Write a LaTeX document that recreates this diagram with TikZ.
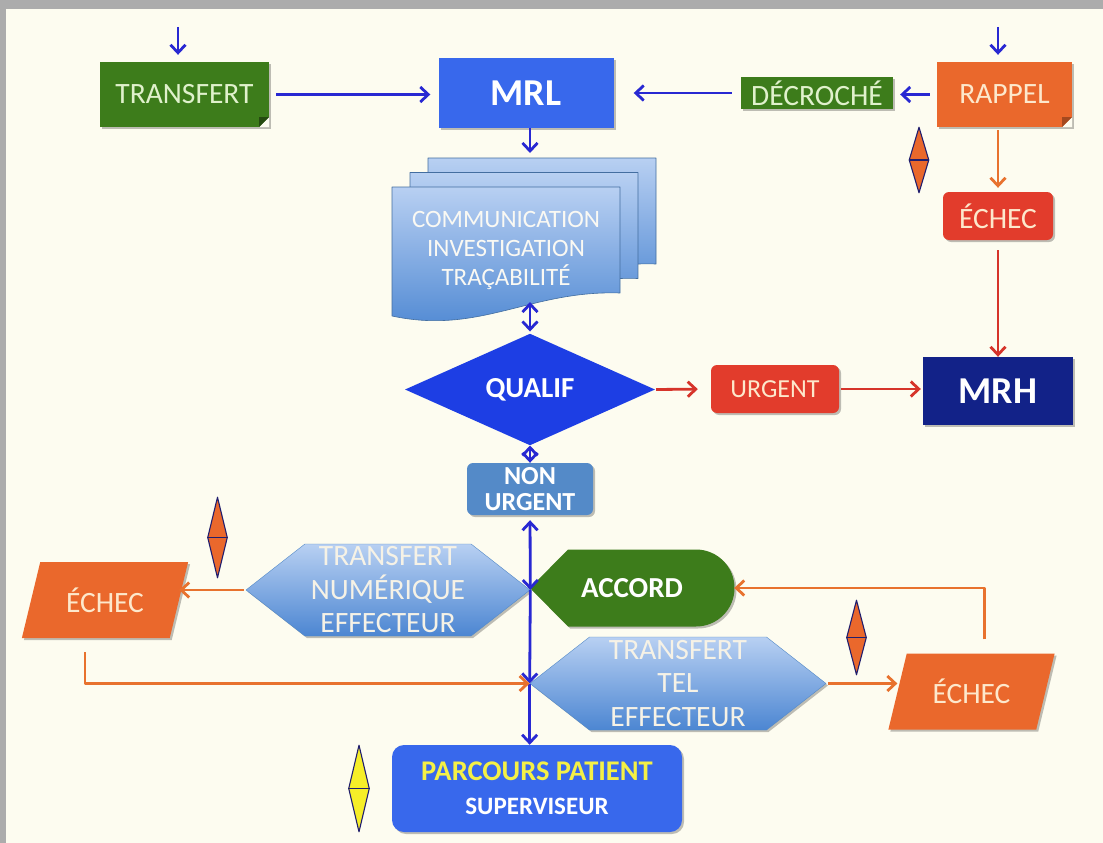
\documentclass[tikz,border=0pt]{standalone}
\usepackage{fontspec}
\setmainfont{Carlito}
\usetikzlibrary{arrows.meta}
\usetikzlibrary{shapes.geometric,shapes.symbols}
\usetikzlibrary{shadows}

\definecolor{fond}{RGB}{253,252,240}
\definecolor{cadre}{RGB}{172,172,172}
\definecolor{vert}{RGB}{61,124,27}
\definecolor{vertclair}{RGB}{224,241,204}
\definecolor{bleu}{RGB}{56,104,236}
\definecolor{bleuqualif}{RGB}{29,62,228}
\definecolor{marine}{RGB}{18,34,136}
\definecolor{orangeR}{RGB}{234,104,44}
\definecolor{orangeclair}{RGB}{253,232,204}
\definecolor{rouge}{RGB}{226,60,44}
\definecolor{acier}{RGB}{84,138,200}
\definecolor{ciel}{RGB}{184,208,242}
\definecolor{cielfonce}{RGB}{76,134,210}
\definecolor{creme}{RGB}{246,242,230}
\definecolor{trait}{RGB}{40,40,210}
\definecolor{traito}{RGB}{232,114,46}
\definecolor{traitr}{RGB}{214,52,42}
\definecolor{bordsigne}{RGB}{32,30,110}
\definecolor{jaune}{RGB}{246,238,40}
\definecolor{jaunetexte}{RGB}{244,240,70}

\tikzset{
  txt/.style={font=\fontsize{29.5}{33.5}\selectfont},
  ombre/.style={drop shadow={shadow xshift=2pt,shadow yshift=-2pt,opacity=.25,fill=black}},
  boite/.style={rectangle, inner sep=0pt, align=center, ombre},
  arrondi/.style={boite, rounded corners=6pt},
  coin/.style={path picture={
      \fill[fond] (path picture bounding box.south east) ++(-10pt,0) -- ++(10pt,0) -- ++(0,10pt) -- cycle;
      \fill[#1] (path picture bounding box.south east) ++(-10pt,0) -- ++(10pt,10pt) -- ++(-10pt,0) -- cycle;}},
  hexa/.style={signal, signal to=east and west, signal pointer angle=76, inner sep=0pt,
      align=center, top color=ciel, bottom color=cielfonce, draw=acier, text=creme, txt, ombre},
  echec/.style={trapezium, trapezium stretches=true, trapezium left angle=66, trapezium right angle=114,
      inner sep=0pt, fill=orangeR, text=orangeclair, txt, minimum width=168pt, minimum height=76pt, ombre},
  losange/.style={diamond, inner sep=0pt, minimum width=20pt, draw=bordsigne, line width=1.1pt, fill=orangeR,
      path picture={\draw[color=bordsigne,line width=1.1pt] (path picture bounding box.west) -- (path picture bounding box.east);}},
  page/.style={top color=ciel, bottom color=cielfonce, draw=acier!80!black, line width=.6pt},
  fl/.style={->, line width=2.8pt, color=trait},
  flo/.style={->, line width=2.8pt, color=traito},
  flr/.style={->, line width=2.8pt, color=traitr}
}

\begin{document}
\begin{tikzpicture}[line join=round,>={Straight Barb[length=8pt,width=15pt]},x=1pt,y=-1pt]

  %cadre
  \fill[cadre] (0,0) rectangle (1103,843);
  \fill[fond] (6,9) rectangle (1103,843);
  \useasboundingbox (0,0) rectangle (1103,843);

  %ligne du haut
  \node[boite, coin=vert!60!black, fill=vert, text=vertclair, txt, minimum width=169pt, minimum height=65pt] (transfert) at (184.5,94.5) {TRANSFERT};
  \node[boite, fill=bleu, text=white, font=\bfseries\fontsize{38}{38}\selectfont, minimum width=175pt, minimum height=69pt] (mrl) at (526,93) {MRL};
  \node[boite, fill=vert, text=vertclair, txt, minimum width=152pt, minimum height=32pt] (decroche) at (817,93) {DÉCROCHÉ};
  \node[boite, coin=orangeR!70!black, fill=orangeR, text=orangeclair, txt, minimum width=135pt, minimum height=65pt] (rappel) at (1004.5,94.5) {RAPPEL};
  \coordinate (entreeT) at (178,27);
  \coordinate (entreeR) at (998,27);

  %colonne de droite
  \node[losange, minimum height=66pt] (signeA) at (919,160) {};
  \node[arrondi, fill=rouge, text=orangeclair, txt, minimum width=110pt, minimum height=48pt] (echecA) at (998,216) {ÉCHEC};
  \node[boite, fill=marine, text=white, font=\bfseries\fontsize{38}{38}\selectfont, minimum width=150pt, minimum height=68pt] (mrh) at (998,391) {MRH};

  %documents
  \foreach \d in {2,1,0}
  {
    \shade[page, shift={(18*\d,-14.5*\d)}] (392,187) -- (620,187) -- (620,293)
      .. controls (530,290) and (480,335) .. (392,316) -- cycle;
  }
  \node[font=\fontsize{25}{29}\selectfont, text=creme!50!white, align=center] (doc) at (506,250) {COMMUNICATION\\INVESTIGATION\\TRAÇABILITÉ};
  \coordinate (docHaut) at (530,158);
  \coordinate (docBas) at (530,302);

  %qualification
  \node[diamond, inner sep=0pt, fill=bleuqualif, text=white, font=\bfseries\fontsize{29}{29}\selectfont, minimum width=250pt, minimum height=89pt] (qualif) at (530,389.5) {QUALIF};
  \node[arrondi, fill=rouge, text=orangeclair, font=\fontsize{26}{26}\selectfont, minimum width=128pt, minimum height=48pt] (urgent) at (775,389) {URGENT};
  \node[arrondi, fill=acier, text=white, font=\bfseries\fontsize{26}{26}\selectfont, minimum width=126pt, minimum height=52pt] (nonurgent) at (530,489) {NON\\URGENT};

  %transferts
  \node[hexa, minimum width=284pt, minimum height=92pt] (tne) at (388,590) {TRANSFERT\\NUMÉRIQUE\\EFFECTEUR};
  \node[echec] (echecG) at (105,600) {ÉCHEC};
  \node[losange, minimum height=81pt] (signeG) at (217.5,537.5) {};

  \coordinate (ac) at (632,588);
  \fill[vert, ombre] ([xshift=-102pt]ac) -- ++(38pt,38.5pt) -- ++(128pt,0)
    arc[start angle=90, end angle=-90, radius=38.5pt] -- ++(-128pt,0) -- cycle;
  \node[font=\bfseries\fontsize{29}{29}\selectfont, text=white, minimum width=204pt, minimum height=77pt, inner sep=0pt] (accord) at (ac) {ACCORD};

  \node[hexa, minimum width=296pt, minimum height=93pt] (tte) at (678,683.5) {TRANSFERT\\TEL\\EFFECTEUR};
  \node[echec] (echecD) at (971.5,691.5) {ÉCHEC};
  \node[losange, minimum height=75pt] (signeD) at (856.5,637.5) {};

  %parcours
  \node[arrondi, rounded corners=12pt, fill=bleu, text=white, font=\bfseries\fontsize{25}{34}\selectfont, minimum width=290pt, minimum height=87pt] (parcours) at (537,788.5)
    {{\color{jaunetexte}\fontsize{28.5}{34}\selectfont PARCOURS PATIENT}\\SUPERVISEUR};
  \node[losange, fill=jaune, minimum width=21pt, minimum height=87pt] (signeJ) at (359,788.5) {};

  % fleches bleues
  \draw[fl, shorten >=7pt] (entreeT) -- (entreeT |- transfert.north);
  \draw[fl, shorten >=7pt] (entreeR) -- (entreeR |- rappel.north);
  \draw[fl, shorten <=7pt, shorten >=8pt] (transfert.east) -- (transfert.east -| mrl.west);
  \draw[fl, shorten <=7pt, shorten >=7pt] (rappel.west) -- (rappel.west -| decroche.east);
  \draw[fl, shorten <=9pt, shorten >=20pt] (decroche.west) -- (decroche.west -| mrl.east);
  \draw[fl, shorten >=5pt] (docHaut |- mrl.south) -- (docHaut);
  \draw[fl, <->, shorten >=2pt] (docBas) -- (qualif.north);
  \draw[fl, <->] (qualif.south) -- (nonurgent.north);
  \draw[fl, <->, shorten <=5pt] (nonurgent.south) -- (tne.east);
  \draw[fl] (tne.east) -- (tte.west);
  \draw[fl] (tte.west) -- (tte.west |- parcours.north);

  % fleches oranges
  \draw[flo, shorten <=3pt, shorten >=4pt] (entreeR |- rappel.south) -- (entreeR |- echecA.north);
  \draw[flo, shorten <=2pt] (tne.west) -- (tne.west -| echecG.east);
  \draw[flo] ([xshift=-20pt,yshift=-14pt]echecG.south) |- (tte.west);
  \draw[flo, shorten <=2pt] (tte.east) -- (tte.east -| echecD.west);
  \draw[flo] ([xshift=13pt,yshift=14pt]echecD.north) |- (accord.east);

  % fleches rouges
  \draw[flr, shorten <=10pt] (echecA.south) -- (mrh.north);
  \draw[flr, shorten <=1pt, shorten >=13pt] (qualif.east) -- (urgent.west);
  \draw[flr, shorten <=2pt, shorten >=2pt] (urgent.east) -- (urgent.east -| mrh.west);

\end{tikzpicture}
\end{document}
